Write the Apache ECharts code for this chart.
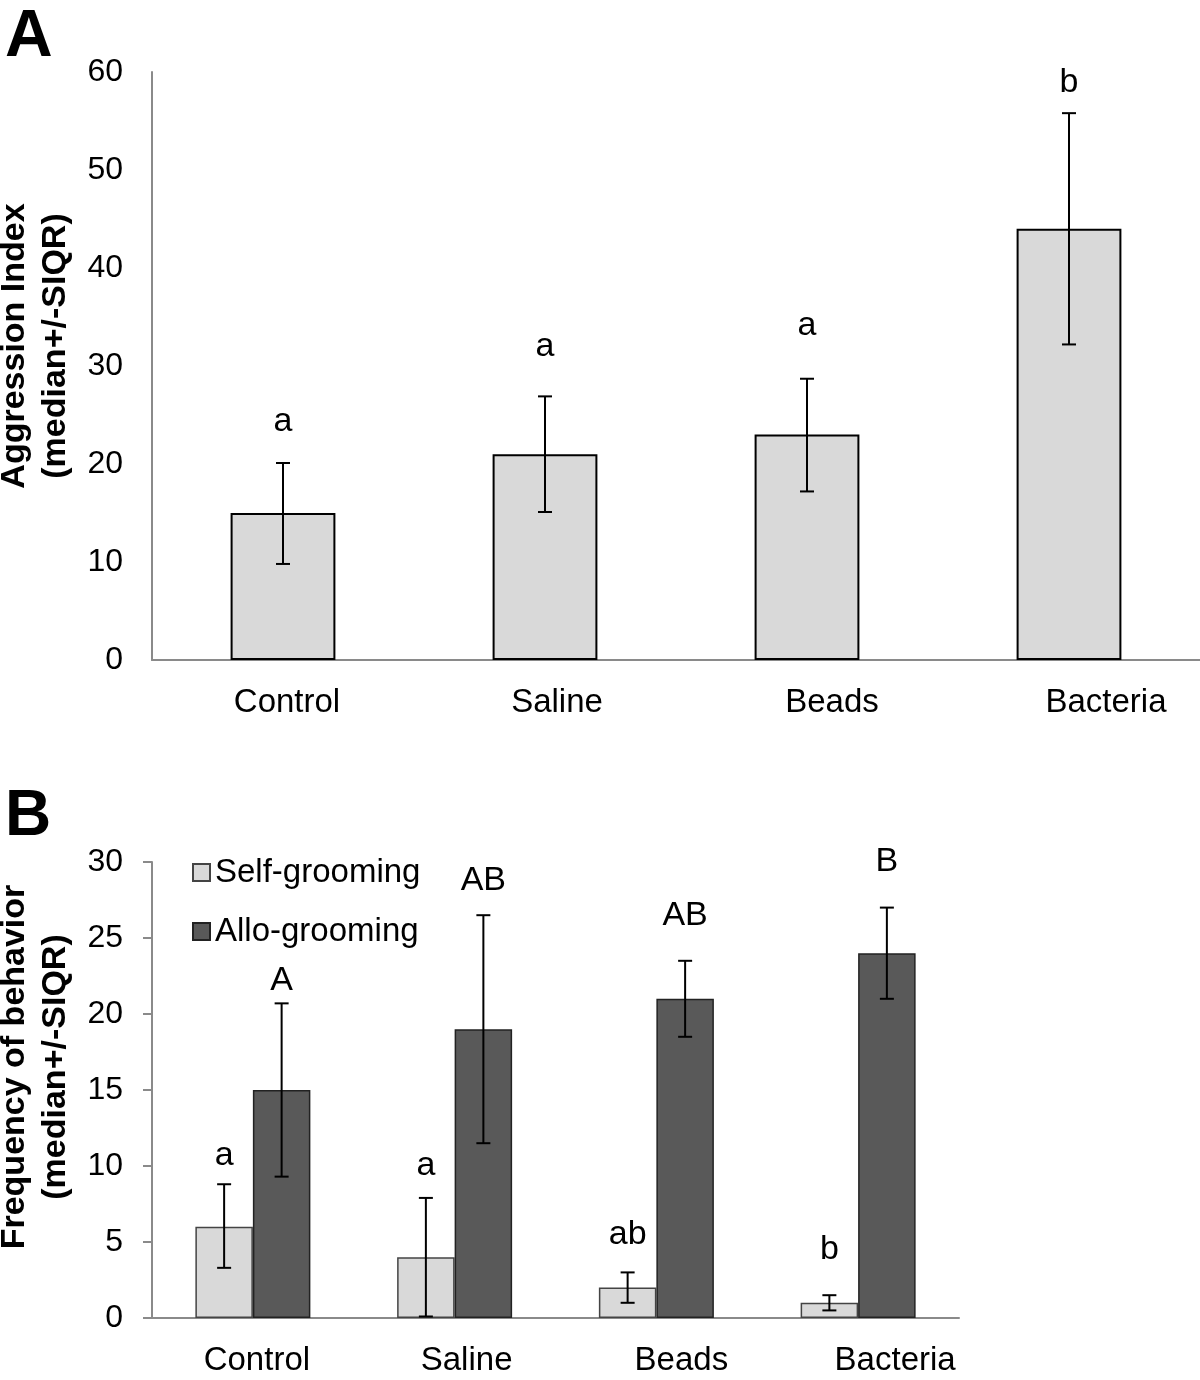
<!DOCTYPE html>
<html><head><meta charset="utf-8">
<script src="https://cdn.jsdelivr.net/npm/echarts@6/dist/echarts.min.js"></script>
<style>html,body{margin:0;padding:0;background:#fff}#c{width:1200px;height:1380px}</style>
</head><body><div id="c"></div>
<script>
// ---- data ----
const categories = ['Control', 'Saline', 'Beads', 'Bacteria'];
const aggTicks = [0, 10, 20, 30, 40, 50, 60];
const aggMedian = [15, 21, 23, 44];
const aggLow = [9.8, 15.1, 17.2, 32.2];
const aggHigh = [20.1, 26.9, 28.7, 55.8];
const aggLetters = ['a', 'a', 'a', 'b'];
const aggLetterAt = [24.3, 32.0, 34.1, 58.9];

const freqTicks = [0, 5, 10, 15, 20, 25, 30];
const selfMedian = [6, 4, 2, 1];
const selfLow = [3.3, 0.1, 1.0, 0.5];
const selfHigh = [8.8, 7.9, 3.0, 1.5];
const selfLetters = ['a', 'a', 'ab', 'b'];
const selfLetterAt = [10.7, 10.0, 5.5, 4.5];

const alloMedian = [15, 19, 21, 24];
const alloLow = [9.3, 11.5, 18.5, 21];
const alloHigh = [20.7, 26.5, 23.5, 27];
const alloLetters = ['A', 'AB', 'AB', 'B'];
const alloLetterAt = [22.2, 28.8, 26.5, 30.0];

// ---- chart ----
const FONT = '"Liberation Sans", Arial, Helvetica, sans-serif';
const chart = echarts.init(document.getElementById('c'), null, {renderer: 'canvas'});

function errRender(shift) {
  return function (params, api) {
    const i = api.value(0);
    const lo = api.coord([i, api.value(1)]);
    const hi = api.coord([i, api.value(2)]);
    const band = api.size([1, 0])[0];
    const x = lo[0] + shift * band;
    const cap = 7;
    const st = {stroke: '#000', lineWidth: 2};
    return {type: 'group', children: [
      {type: 'line', shape: {x1: x, y1: lo[1], x2: x, y2: hi[1]}, style: st},
      {type: 'line', shape: {x1: x - cap, y1: hi[1], x2: x + cap, y2: hi[1]}, style: st},
      {type: 'line', shape: {x1: x - cap, y1: lo[1], x2: x + cap, y2: lo[1]}, style: st}
    ]};
  };
}
function letterRender(shift, letters) {
  return function (params, api) {
    const i = api.value(0);
    const p = api.coord([i, api.value(1)]);
    const band = api.size([1, 0])[0];
    return {type: 'text', x: p[0] + shift * band, y: p[1],
      style: {text: letters[params.dataIndex], font: '34px ' + FONT, fill: '#000',
        textAlign: 'center', textVerticalAlign: 'middle'}};
  };
}
const errData = (lo, hi) => lo.map((v, i) => [i, v, hi[i]]);
const letData = (at) => at.map((v, i) => [i, v]);

const richOffsets = {};
[8, 24, 50, 74].forEach((p, i) => {
  richOffsets['p' + i] = {padding: [0, 0, 0, p], fontSize: 33, fontFamily: FONT, color: '#000'};
});
const catLabel = {
  fontSize: 33, fontFamily: FONT, color: '#000', margin: 26, interval: 0,
  formatter: (v, i) => '{p' + i + '|' + v + '}', rich: richOffsets
};
const axisLineStyle = {lineStyle: {color: '#8a8a8a', width: 2}};
const nameStyle = (shiftUp) => ({fontSize: 34, fontWeight: 'bold', fontFamily: FONT, color: '#000',
  lineHeight: 41, padding: [0, 0, 0, shiftUp * 2]});

const option = {
  backgroundColor: '#fff',
  animation: false,
  title: [
    {text: 'A', left: 0, top: 0, textStyle: {fontSize: 66, fontWeight: 'bold', fontFamily: FONT, color: '#000'}},
    {text: 'B', left: 0, top: 780, textStyle: {fontSize: 64, fontWeight: 'bold', fontFamily: FONT, color: '#000'}}
  ],
  legend: {
    data: ['Self-grooming', 'Allo-grooming'],
    orient: 'vertical', left: 187, top: 851, itemGap: 26,
    icon: 'rect', itemWidth: 17, itemHeight: 17,
    textStyle: {fontSize: 33, fontFamily: FONT, color: '#000'}
  },
  grid: [
    {left: 152, top: 72, width: 1048, height: 588, outerBoundsMode: 'none', containLabel: false},
    {left: 152, top: 862, width: 807, height: 456, outerBoundsMode: 'none', containLabel: false}
  ],
  xAxis: [
    {type: 'category', gridIndex: 0, data: categories, axisTick: {show: false},
      axisLine: axisLineStyle, axisLabel: catLabel},
    {type: 'category', gridIndex: 1, data: categories, axisTick: {show: false},
      axisLine: axisLineStyle, axisLabel: catLabel}
  ],
  yAxis: [
    {type: 'value', gridIndex: 0, min: aggTicks[0], max: aggTicks[aggTicks.length - 1], interval: 10,
      splitLine: {show: false}, axisLine: {show: true, lineStyle: {color: '#8a8a8a', width: 2}},
      axisTick: {show: false},
      axisLabel: {fontSize: 32, fontFamily: FONT, color: '#000', margin: 29},
      name: 'Aggression Index\n(median+/-SIQR)', nameLocation: 'middle', nameRotate: 90, nameGap: 73,
      nameTextStyle: nameStyle(20)},
    {type: 'value', gridIndex: 1, min: freqTicks[0], max: freqTicks[freqTicks.length - 1], interval: 5,
      splitLine: {show: false}, axisLine: {show: true, lineStyle: {color: '#8a8a8a', width: 2}},
      axisTick: {show: true, length: 9, lineStyle: {color: '#8a8a8a', width: 2}},
      axisLabel: {fontSize: 32, fontFamily: FONT, color: '#000', margin: 29},
      name: 'Frequency of behavior\n(median+/-SIQR)', nameLocation: 'middle', nameRotate: 90, nameGap: 73,
      nameTextStyle: nameStyle(23)}
  ],
  series: [
    {name: 'Aggression', type: 'bar', xAxisIndex: 0, yAxisIndex: 0, data: aggMedian, barWidth: '40%',
      itemStyle: {color: '#d9d9d9', borderColor: '#000', borderWidth: 2}},
    {type: 'custom', xAxisIndex: 0, yAxisIndex: 0, renderItem: errRender(0), data: errData(aggLow, aggHigh), z: 5},
    {type: 'custom', xAxisIndex: 0, yAxisIndex: 0, renderItem: letterRender(0, aggLetters), data: letData(aggLetterAt), z: 5},

    {name: 'Self-grooming', type: 'bar', xAxisIndex: 1, yAxisIndex: 1, data: selfMedian,
      barCategoryGap: '43%', barGap: '0%',
      itemStyle: {color: '#d9d9d9', borderColor: '#444', borderWidth: 1.5}},
    {name: 'Allo-grooming', type: 'bar', xAxisIndex: 1, yAxisIndex: 1, data: alloMedian,
      barCategoryGap: '43%', barGap: '0%',
      itemStyle: {color: '#595959', borderColor: '#222', borderWidth: 1.5}},
    {type: 'custom', xAxisIndex: 1, yAxisIndex: 1, renderItem: errRender(-0.1425), data: errData(selfLow, selfHigh), z: 5},
    {type: 'custom', xAxisIndex: 1, yAxisIndex: 1, renderItem: errRender(0.1425), data: errData(alloLow, alloHigh), z: 5},
    {type: 'custom', xAxisIndex: 1, yAxisIndex: 1, renderItem: letterRender(-0.1425, selfLetters), data: letData(selfLetterAt), z: 5},
    {type: 'custom', xAxisIndex: 1, yAxisIndex: 1, renderItem: letterRender(0.1425, alloLetters), data: letData(alloLetterAt), z: 5}
  ]
};
chart.setOption(option);
</script></body></html>
